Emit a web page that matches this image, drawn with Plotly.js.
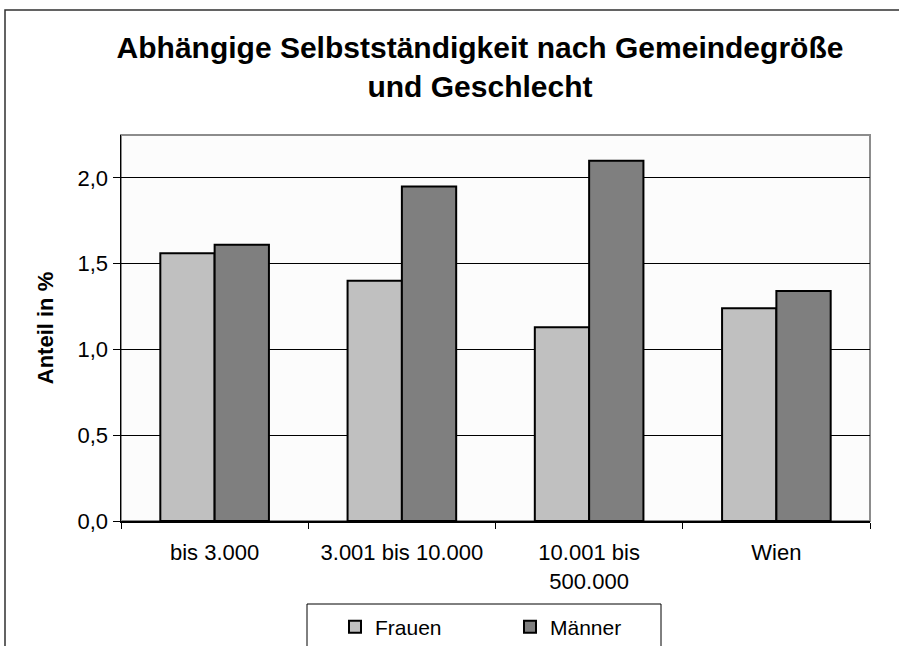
<!DOCTYPE html>
<html>
<head>
<meta charset="utf-8">
<script src="https://cdn.plot.ly/plotly-3.0.1.min.js"></script>
<style>
  html, body { margin: 0; padding: 0; background: #ffffff; }
  #chart { width: 899px; height: 646px; }
</style>
</head>
<body>
<div id="chart"></div>
<script>
// ---- data ----
const categories = ["bis 3.000", "3.001 bis 10.000", "10.001 bis<br>500.000", "Wien"];
const seriesNames = ["Frauen", "Männer"];
const frauen = [1.56, 1.40, 1.13, 1.24];
const maenner = [1.61, 1.95, 2.10, 1.34];
const yTickVals = [0, 0.5, 1.0, 1.5, 2.0];
const yTickText = ["0,0", "0,5", "1,0", "1,5", "2,0"];
const chartTitle = "Abhängige Selbstständigkeit nach Gemeindegröße<br>und Geschlecht";
const yTitle = "Anteil in %";

// ---- layout geometry ----
const W = 899, H = 646;
const M = { l: 121, r: 29, t: 135, b: 125, autoexpand: false };
const pw = W - M.l - M.r, ph = H - M.t - M.b;
const px = x => (x - M.l) / pw;          // pixel -> paper x
const py = y => (H - M.b - y) / ph;      // pixel -> paper y

const FONT = "Liberation Sans, Arial, sans-serif";

const traces = [
  {
    type: "bar", name: seriesNames[0], x: categories, y: frauen,
    marker: { color: "#c0c0c0", line: { color: "#000000", width: 2 } },
    hoverinfo: "skip"
  },
  {
    type: "bar", name: seriesNames[1], x: categories, y: maenner,
    marker: { color: "#7f7f7f", line: { color: "#000000", width: 2 } },
    hoverinfo: "skip"
  }
];

const layout = {
  width: W, height: H,
  margin: M,
  paper_bgcolor: "#ffffff",
  plot_bgcolor: "#fcfcfc",
  barmode: "group",
  bargap: 0.42,
  bargroupgap: 0,
  font: { family: FONT, color: "#000000", size: 22 },
  title: {
    text: chartTitle,
    font: { family: FONT, size: 30, weight: "bold", color: "#000000" },
    xref: "paper", x: px(480), xanchor: "center",
    yref: "container", y: 1 - 58 / H, yanchor: "middle"
  },
  xaxis: {
    type: "category",
    showline: true, linecolor: "#000000", linewidth: 1.5,
    ticks: "outside", tickson: "boundaries", ticklen: 6, tickcolor: "#000000", tickwidth: 1,
    ticklabelstandoff: 11,
    showgrid: false, zeroline: false,
    tickfont: { family: FONT, size: 22, color: "#000000" },
    fixedrange: true
  },
  yaxis: {
    range: [0, 2.25],
    tickvals: yTickVals, ticktext: yTickText,
    showline: true, linecolor: "#000000", linewidth: 1.5,
    ticks: "outside", ticklen: 7, tickcolor: "#000000", tickwidth: 1,
    showgrid: true, gridcolor: "#000000", gridwidth: 1,
    zeroline: false,
    tickfont: { family: FONT, size: 22, color: "#000000" },
    title: { text: yTitle, font: { family: FONT, size: 22, weight: "bold", color: "#000000" }, standoff: 18 },
    fixedrange: true
  },
  legend: {
    orientation: "h",
    x: px(335), xanchor: "left",
    y: py(627), yanchor: "middle",
    bgcolor: "rgba(0,0,0,0)", borderwidth: 0,
    font: { family: FONT, size: 21, color: "#000000" },
    entrywidth: 130,
    itemwidth: 30,
    traceorder: "normal"
  },
  shapes: [
    // plot area frame (top/right gray)
    { type: "rect", xref: "paper", yref: "paper", x0: 0, x1: 1, y0: 0, y1: 1,
      line: { color: "#8c8c8c", width: 2 }, fillcolor: "rgba(0,0,0,0)", layer: "below" },
    // legend box
    { type: "rect", xref: "paper", yref: "paper",
      x0: px(307), x1: px(661), y0: py(700), y1: py(604),
      line: { color: "#000000", width: 1 }, fillcolor: "rgba(0,0,0,0)" },
    // outer chart border
    { type: "rect", xref: "paper", yref: "paper",
      x0: px(5), x1: px(1000), y0: py(800), y1: py(10),
      line: { color: "#303030", width: 1.5 }, fillcolor: "rgba(0,0,0,0)" }
  ]
};

Plotly.newPlot("chart", traces, layout, { displayModeBar: false, staticPlot: true });
</script>
</body>
</html>
